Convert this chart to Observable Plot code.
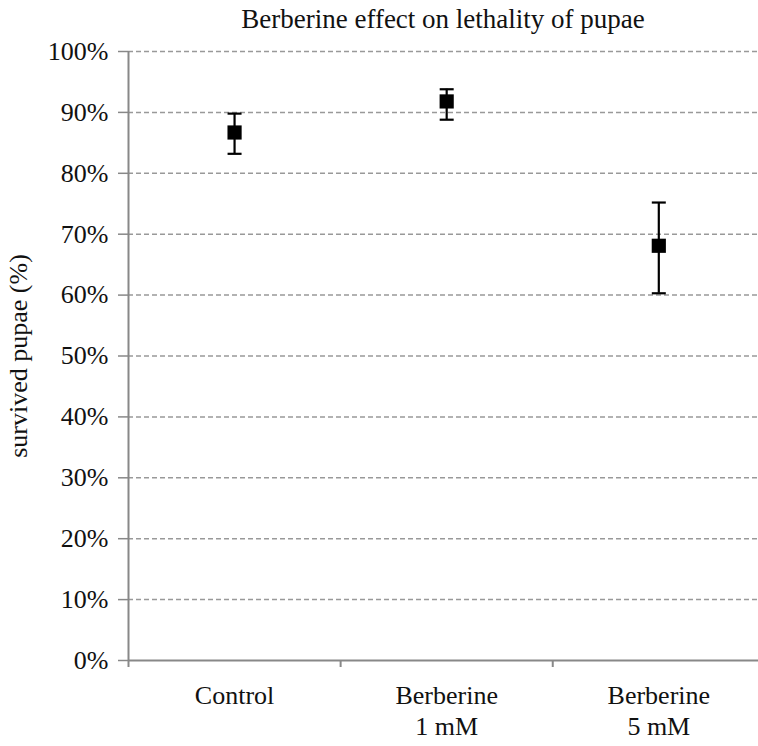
<!DOCTYPE html>
<html>
<head>
<meta charset="utf-8">
<script src="https://cdn.jsdelivr.net/npm/d3@7"></script>
<script src="https://cdn.jsdelivr.net/npm/@observablehq/plot@0.6"></script>
<style>
  body { margin: 0; background: white; }
  #title { width: 758px; height: 36px; line-height: 38px; box-sizing: border-box; padding-left: 128px; text-align: center;
           font-family: "Liberation Serif", serif; font-size: 27px; color: #111; white-space: nowrap; }
</style>
</head>
<body>
<div id="title">Berberine effect on lethality of pupae</div>
<div id="chart"></div>
<script>
const categories = ["Control", "Berberine\n1 mM", "Berberine\n5 mM"];
const means = [0.867, 0.918, 0.681];
const upper = [0.898, 0.938, 0.752];
const lower = [0.832, 0.888, 0.603];
const yTicks = [0, 0.1, 0.2, 0.3, 0.4, 0.5, 0.6, 0.7, 0.8, 0.9, 1.0];

const data = categories.map((c, i) => ({ name: c, x: i + 0.5, mean: means[i], hi: upper[i], lo: lower[i] }));
const caps = data.flatMap(d => [{ x: d.x, y: d.hi }, { x: d.x, y: d.lo }]);

const capSymbol = {
  draw(ctx, size) {
    const h = Math.sqrt(size / Math.PI);
    ctx.moveTo(-h, 0);
    ctx.lineTo(h, 0);
  }
};

const chart = Plot.plot({
  width: 758,
  height: 710,
  marginLeft: 128,
  marginRight: 0,
  marginTop: 15,
  marginBottom: 86,
  style: { fontFamily: "Liberation Serif, serif", fontSize: "26px", background: "white", color: "#111" },
  x: { domain: [0, 2.97] },
  y: { domain: [0, 1] },
  marks: [
    Plot.ruleY(yTicks.filter(d => d > 0), { stroke: "#999", strokeWidth: 1.5, strokeDasharray: "5,3" }),
    Plot.axisY({ ticks: yTicks, tickFormat: d3.format(".0%"), tickSize: 10, tickPadding: 10, stroke: "#888", strokeWidth: 1.5,
                 label: "survived pupae (%)", labelAnchor: "center", labelArrow: "none", labelOffset: 120, fontSize: 26 }),
    Plot.ruleX([0], { stroke: "#888", strokeWidth: 2 }),
    Plot.ruleY([0], { stroke: "#888", strokeWidth: 2 }),
    Plot.axisX({ ticks: [0, 1, 2], tickSize: 7, tickFormat: () => "", stroke: "#888", strokeWidth: 2, label: null }),
    Plot.axisX({ ticks: data.map(d => d.x), tickSize: 0, tickPadding: 21, tickFormat: d => categories[Math.floor(d)],
                 lineHeight: 1.2, fontSize: 26, label: null }),
    Plot.ruleX(data, { x: "x", y1: "lo", y2: "hi", stroke: "black", strokeWidth: 2.2 }),
    Plot.dot(caps, { x: "x", y: "y", symbol: capSymbol, r: 7, stroke: "black", strokeWidth: 2.2 }),
    Plot.dot(data, { x: "x", y: "mean", symbol: "square", r: 8, fill: "black", stroke: "none" })
  ]
});
document.getElementById("chart").appendChild(chart);
</script>
</body>
</html>
